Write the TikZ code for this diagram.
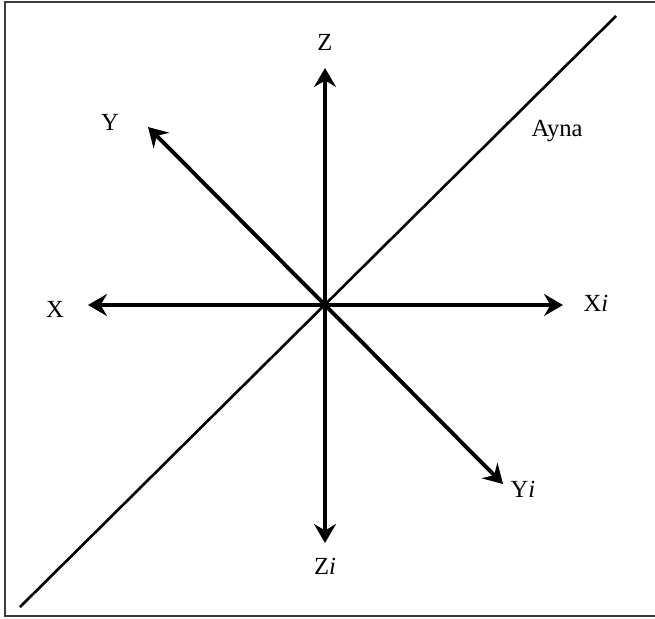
\documentclass[tikz,border=0pt]{standalone}
\usepackage{fontspec}
\setmainfont{Liberation Serif}
\usetikzlibrary{arrows.meta}

\begin{document}
\begin{tikzpicture}[x=0.02cm, y=-0.02cm]
% Styles
\tikzstyle{none} = [inner sep=0pt, font=\fontsize{14}{16}\selectfont]
\tikzstyle{arrow}=[draw=black, -{Stealth[length=3.8mm, width=4.4mm, inset=1.3mm]}, line width=2.2pt]
\tikzstyle{mirror}=[-, draw=black, line width=1.5pt]
\tikzstyle{frame}=[-, draw={rgb,255: red,60; green,60; blue,60}, line width=1.2pt]

\useasboundingbox (0, 0) rectangle (655, 618);

\node [style=none] (0) at (325, 305) {};
\node [style=none] (1) at (325, 68) {};
\node [style=none] (2) at (325, 543) {};
\node [style=none] (3) at (88, 305) {};
\node [style=none] (4) at (563, 305) {};
\node [style=none] (5) at (148, 127) {};
\node [style=none] (6) at (503, 484) {};
\node [style=none] (7) at (20, 607) {};
\node [style=none] (8) at (616, 16) {};
\node [style=none] (9) at (5, 2) {};
\node [style=none] (10) at (5, 616) {};
\node [style=none] (11) at (660, 2) {};
\node [style=none] (12) at (660, 616) {};
\node [style=none] (13) at (325, 42) {Z};
\node [style=none] (14) at (325, 566) {Z\textit{i}};
\node [style=none] (15) at (55, 309) {X};
\node [style=none] (16) at (596, 303) {X\textit{i}};
\node [style=none] (17) at (110, 122) {Y};
\node [style=none] (18) at (523, 489) {Y\textit{i}};
\node [style=none] (19) at (557, 131) {Ayna};

\draw [style=frame] (11.center) to (9.center) to (10.center) to (12.center);
\draw [style=mirror] (7.center) to (8.center);
\draw [style=arrow] (0.center) to (1.center);
\draw [style=arrow] (0.center) to (2.center);
\draw [style=arrow] (0.center) to (3.center);
\draw [style=arrow] (0.center) to (4.center);
\draw [style=arrow] (0.center) to (5.center);
\draw [style=arrow] (0.center) to (6.center);
\end{tikzpicture}
\end{document}
